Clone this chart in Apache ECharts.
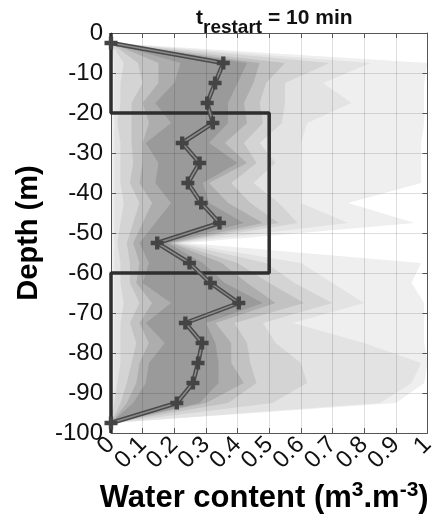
<!DOCTYPE html>
<html>
<head>
<meta charset="utf-8">
<script src="https://cdn.jsdelivr.net/npm/echarts@6/dist/echarts.min.js"></script>
<style>html,body{margin:0;padding:0;background:#fff}#chart{width:438px;height:522px}</style>
</head>
<body>
<div id="chart"></div>
<script>
// Depth of each profile node (m)
const depth = [-2.5, -7.5, -12.5, -17.5, -22.5, -27.5, -32.5, -37.5, -42.5, -47.5, -52.5, -57.5, -62.5, -67.5, -72.5, -77.5, -82.5, -87.5, -92.5, -97.5];
// Median water content
const median = [0, 0.355, 0.329, 0.304, 0.322, 0.225, 0.28, 0.243, 0.285, 0.343, 0.146, 0.248, 0.314, 0.404, 0.235, 0.288, 0.275, 0.259, 0.208, 0];
// Envelope bands, from widest (lightest) to narrowest (darkest)
const band6Left  = [0, 0, 0, 0, 0, 0, 0, 0, 0, 0, 0, 0, 0, 0, 0, 0, 0, 0, 0, 0];
const band6Right = [0, 1, 0.99, 0.99, 0.99, 0.98, 0.98, 0.98, 0.75, 0.96, 0.24, 0.98, 0.95, 0.99, 0.99, 0.99, 1, 0.99, 0.9, 0];
const band5Left  = [0, 0.01, 0.01, 0.01, 0.01, 0.01, 0.01, 0.01, 0.01, 0.01, 0.01, 0.01, 0.01, 0.01, 0.01, 0.01, 0.01, 0.01, 0.005, 0];
const band5Right = [0, 0.82, 0.67, 0.76, 0.62, 0.6, 0.6, 0.6, 0.6, 0.75, 0.22, 0.6, 0.7, 0.8, 0.575, 0.8, 0.98, 0.95, 0.85, 0];
const band4Left  = [0, 0.04, 0.03, 0.03, 0.02, 0.03, 0.03, 0.03, 0.04, 0.03, 0.02, 0.03, 0.03, 0.04, 0.03, 0.03, 0.03, 0.02, 0.01, 0];
const band4Right = [0, 0.69, 0.55, 0.55, 0.54, 0.47, 0.52, 0.45, 0.53, 0.59, 0.21, 0.49, 0.58, 0.7, 0.48, 0.52, 0.6, 0.62, 0.51, 0];
const band3Left  = [0, 0.085, 0.1, 0.065, 0.065, 0.065, 0.07, 0.06, 0.09, 0.07, 0.05, 0.06, 0.06, 0.09, 0.06, 0.08, 0.065, 0.05, 0.03, 0];
const band3Right = [0, 0.55, 0.49, 0.47, 0.48, 0.42, 0.46, 0.38, 0.44, 0.53, 0.2, 0.4, 0.5, 0.61, 0.39, 0.43, 0.44, 0.46, 0.37, 0];
const band2Left  = [0, 0.15, 0.15, 0.1, 0.12, 0.1, 0.1, 0.09, 0.13, 0.1, 0.07, 0.09, 0.08, 0.13, 0.09, 0.12, 0.09, 0.08, 0.05, 0];
const band2Right = [0, 0.47, 0.45, 0.42, 0.43, 0.36, 0.43, 0.31, 0.37, 0.48, 0.19, 0.35, 0.43, 0.52, 0.33, 0.38, 0.38, 0.42, 0.3, 0];
const band1Left  = [0, 0.22, 0.2, 0.14, 0.19, 0.11, 0.15, 0.14, 0.19, 0.14, 0.09, 0.12, 0.1, 0.19, 0.11, 0.17, 0.12, 0.11, 0.07, 0];
const band1Right = [0, 0.43, 0.4, 0.37, 0.37, 0.31, 0.4, 0.29, 0.31, 0.42, 0.18, 0.29, 0.36, 0.48, 0.3, 0.33, 0.34, 0.34, 0.28, 0];
// Reference step profile
const stepTheta = [0, 0, 0.5, 0.5, 0, 0];
const stepDepth = [0, -20, -20, -60, -60, -100];
// Axis ticks
const xTicks = [0, 0.1, 0.2, 0.3, 0.4, 0.5, 0.6, 0.7, 0.8, 0.9, 1];
const yTicks = [0, -10, -20, -30, -40, -50, -60, -70, -80, -90, -100];

const bandColors = ['#efefef', '#e3e3e3', '#d4d4d4', '#c2c2c2', '#adadad', '#9a9a9a'];
const bands = [
  [band6Left, band6Right], [band5Left, band5Right], [band4Left, band4Right],
  [band3Left, band3Right], [band2Left, band2Right], [band1Left, band1Right]
];
const FONT = "'Liberation Sans', Arial, sans-serif";
const fmtX = v => String(Math.round(v * 10) / 10);
const xMin = xTicks[0], xMax = xTicks[xTicks.length - 1];

const chart = echarts.init(document.getElementById('chart'));
chart.setOption({
  animation: false,
  backgroundColor: '#fff',
  title: {
    text: '{t|t}{s|restart}{t| = 10 min}',
    left: 191, top: 3,
    textStyle: {
      rich: {
        t: { fontFamily: FONT, fontWeight: 'bold', fontSize: 21, color: '#111', lineHeight: 22, verticalAlign: 'top' },
        s: { fontFamily: FONT, fontWeight: 'bold', fontSize: 19, color: '#111', lineHeight: 29, verticalAlign: 'bottom' }
      }
    }
  },
  grid: { left: 111, right: 9, top: 33, bottom: 89, containLabel: false },
  xAxis: [{
    type: 'value', position: 'bottom', min: xMin, max: xMax, interval: 0.1, z: 3,
    name: '{b|Water content (m}{u|3}{b|.m}{u|-3}{b|)}',
    nameLocation: 'middle', nameGap: 45,
    nameTextStyle: {
      padding: [0, 10, 0, 0],
      rich: {
        b: { fontFamily: FONT, fontWeight: 'bold', fontSize: 31, color: '#000', lineHeight: 34, verticalAlign: 'bottom' },
        u: { fontFamily: FONT, fontWeight: 'bold', fontSize: 21, color: '#000', lineHeight: 22, verticalAlign: 'top' }
      }
    },
    axisLine: { show: true, onZero: false, lineStyle: { color: '#555', width: 1 } },
    axisTick: { show: true, inside: true, length: 5, lineStyle: { color: '#555' } },
    axisLabel: { rotate: 45, fontSize: 24, fontFamily: FONT, color: '#111', margin: 8,
      showMaxLabel: true, hideOverlap: false,
      formatter: v => (v === 0 ? '' : fmtX(v)) },
    splitLine: { show: true, lineStyle: { color: 'rgba(0,0,0,0.13)', width: 1 } }
  }, {
    type: 'value', position: 'top', min: xMin, max: xMax, interval: 0.1, z: 3,
    axisLine: { show: true, onZero: false, lineStyle: { color: '#555', width: 1 } },
    axisTick: { show: true, inside: true, length: 5, lineStyle: { color: '#555' } },
    axisLabel: { show: false }, splitLine: { show: false }
  }, {
    type: 'value', position: 'bottom', min: xMin, max: xMax, interval: 0.1, z: 3,
    axisLine: { show: false, onZero: false }, axisTick: { show: false }, splitLine: { show: false },
    axisLabel: { rotate: 45, fontSize: 24, fontFamily: FONT, color: '#111', margin: 8,
      showMinLabel: true, formatter: v => (v === 0 ? fmtX(v) : '') }
  }],
  yAxis: [{
    type: 'value', position: 'left', min: yTicks[yTicks.length - 1], max: yTicks[0], interval: 10, z: 3,
    name: 'Depth (m)', nameLocation: 'middle', nameGap: 68, nameRotate: 90,
    nameTextStyle: { fontFamily: FONT, fontWeight: 'bold', fontSize: 29, color: '#000' },
    axisLine: { show: true, onZero: false, lineStyle: { color: '#555', width: 1 } },
    axisTick: { show: true, inside: true, length: 5, lineStyle: { color: '#555' } },
    axisLabel: { fontSize: 24, fontFamily: FONT, color: '#111', margin: 8, showMinLabel: true, showMaxLabel: true },
    splitLine: { show: true, lineStyle: { color: 'rgba(0,0,0,0.13)', width: 1 } }
  }, {
    type: 'value', position: 'right', min: yTicks[yTicks.length - 1], max: yTicks[0], interval: 10, z: 3,
    axisLine: { show: true, onZero: false, lineStyle: { color: '#555', width: 1 } },
    axisTick: { show: true, inside: true, length: 5, lineStyle: { color: '#555' } },
    axisLabel: { show: false }, splitLine: { show: false }
  }],
  series: [{
    type: 'custom', z: 1,
    coordinateSystem: 'cartesian2d', xAxisIndex: 0, yAxisIndex: 0,
    data: bands.map((b, i) => [i, -50]),
    encode: { x: 0, y: 1 },
    renderItem: function (params, api) {
      const i = params.dataIndex;
      const L = bands[i][0], R = bands[i][1];
      const pts = [];
      for (let k = 0; k < depth.length; k++) pts.push(api.coord([Math.min(L[k], 1), depth[k]]));
      for (let k = depth.length - 1; k >= 0; k--) pts.push(api.coord([Math.min(R[k], 1), depth[k]]));
      return { type: 'polygon', shape: { points: pts }, style: { fill: bandColors[i], stroke: null } };
    }
  }, {
    type: 'line', z: 10, xAxisIndex: 0, yAxisIndex: 0,
    data: stepTheta.map((t, k) => [t, stepDepth[k]]),
    symbol: 'none', lineStyle: { color: '#2e2e2e', width: 3.5 }
  }, {
    type: 'line', z: 11, xAxisIndex: 0, yAxisIndex: 0,
    data: median.map((t, k) => [t, depth[k]]),
    symbol: 'none', lineStyle: { color: '#4a4a4a', width: 4.5 }
  }, {
    type: 'line', z: 12, xAxisIndex: 0, yAxisIndex: 0,
    data: median.map((t, k) => [t, depth[k]]),
    symbol: 'path://M4,0H8V4H12V8H8V12H4V8H0V4H4Z', symbolSize: 13,
    itemStyle: { color: '#444' },
    lineStyle: { color: '#8a8a8a', width: 1.5 }
  }]
});
</script>
</body>
</html>
